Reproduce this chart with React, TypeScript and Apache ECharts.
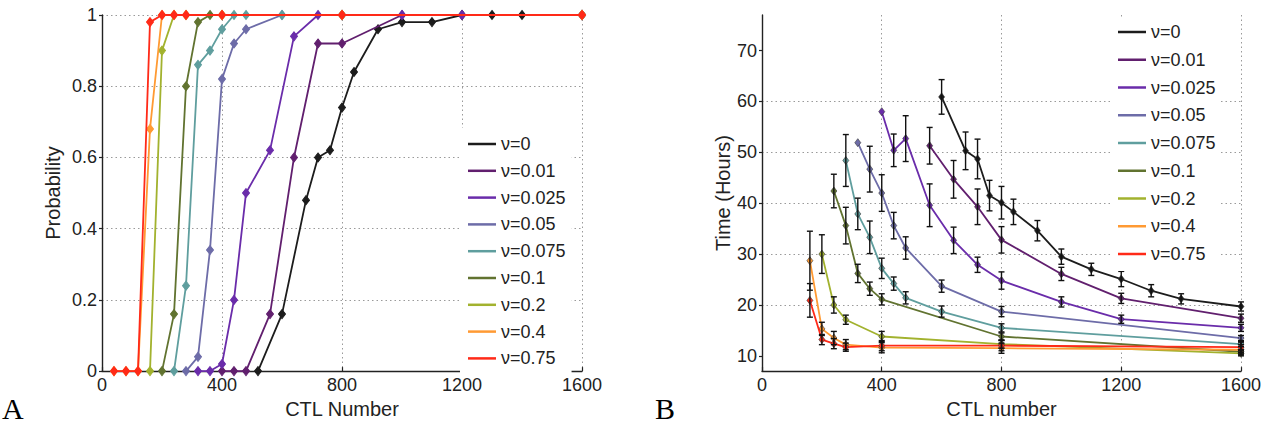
import React, { useEffect, useRef } from "react";
import * as echarts from "echarts";

// ---------- Names / colours ----------
const seriesNames = ["ν=0", "ν=0.01", "ν=0.025", "ν=0.05", "ν=0.075", "ν=0.1", "ν=0.2", "ν=0.4", "ν=0.75"];
const seriesColors = ["#1c1c1c", "#611f6e", "#6a2caa", "#6d6ca8", "#5f9e9e", "#617330", "#a2b22e", "#ff9a33", "#ff2a18"];

// ---------- Panel A : probability vs CTL number ----------
const ctlA_v0 = [520, 600, 680, 720, 760, 800, 840, 920, 1000, 1100, 1200, 1300, 1400, 1600];
const probA_v0 = [0, 0.16, 0.48, 0.6, 0.62, 0.74, 0.84, 0.96, 0.98, 0.98, 1, 1, 1, 1];
const ctlA_v001 = [400, 440, 480, 560, 640, 720, 800, 1000, 1200, 1600];
const probA_v001 = [0, 0, 0, 0.16, 0.6, 0.92, 0.92, 1, 1, 1];
const ctlA_v0025 = [320, 360, 400, 440, 480, 560, 640, 720, 800, 1000, 1200, 1600];
const probA_v0025 = [0, 0, 0.02, 0.2, 0.5, 0.62, 0.94, 1, 1, 1, 1, 1];
const ctlA_v005 = [280, 320, 360, 400, 440, 480, 600, 800, 1600];
const probA_v005 = [0, 0.04, 0.34, 0.82, 0.92, 0.96, 1, 1, 1];
const ctlA_v0075 = [240, 280, 320, 360, 400, 440, 480, 600, 800, 1600];
const probA_v0075 = [0, 0.24, 0.86, 0.9, 0.96, 1, 1, 1, 1, 1];
const ctlA_v01 = [200, 240, 280, 320, 360, 400, 800, 1600];
const probA_v01 = [0, 0.16, 0.8, 0.98, 1, 1, 1, 1];
const ctlA_v02 = [160, 200, 240, 280, 400, 800, 1600];
const probA_v02 = [0, 0.9, 1, 1, 1, 1, 1];
const ctlA_v04 = [40, 80, 120, 160, 200, 240, 280, 400, 800, 1600];
const probA_v04 = [0, 0, 0, 0.68, 1, 1, 1, 1, 1, 1];
const ctlA_v075 = [40, 80, 120, 160, 200, 240, 280, 400, 800, 1600];
const probA_v075 = [0, 0, 0, 0.98, 1, 1, 1, 1, 1, 1];

// ---------- Panel B : time (hours) vs CTL number ----------
const ctlB_v0 = [600, 680, 720, 760, 800, 840, 920, 1000, 1100, 1200, 1300, 1400, 1600];
const timeB_v0 = [60.9, 50.3, 48.7, 41.5, 40.1, 38.3, 34.6, 29.5, 27.0, 25.1, 22.8, 21.2, 19.7];
const errB_v0 = [3.4, 3.7, 3.9, 3.0, 3.2, 2.5, 2.0, 1.5, 1.2, 1.5, 1.2, 1.0, 0.9];
const ctlB_v001 = [560, 640, 720, 800, 1000, 1200, 1600];
const timeB_v001 = [51.3, 44.7, 39.3, 32.8, 26.1, 21.3, 17.4];
const errB_v001 = [3.6, 3.7, 3.5, 2.6, 1.3, 1.0, 0.8];
const ctlB_v0025 = [400, 440, 480, 560, 640, 720, 800, 1000, 1200, 1600];
const timeB_v0025 = [58.0, 50.4, 52.7, 39.6, 32.7, 27.9, 24.8, 20.6, 17.2, 15.5];
const errB_v0025 = [0, 3.2, 4.5, 4.2, 2.6, 1.5, 1.7, 1.0, 0.8, 0.7];
const ctlB_v005 = [320, 360, 400, 440, 480, 600, 800, 1600];
const timeB_v005 = [51.9, 46.7, 42.0, 35.6, 31.2, 23.7, 18.7, 13.5];
const errB_v005 = [0, 4.5, 3.6, 2.6, 2.2, 1.2, 1.0, 0.5];
const ctlB_v0075 = [280, 320, 360, 400, 440, 480, 600, 800, 1600];
const timeB_v0075 = [48.4, 37.9, 33.3, 27.2, 24.2, 21.4, 18.7, 15.5, 12.3];
const errB_v0075 = [5.1, 3.1, 3.2, 2.0, 1.3, 1.2, 1.1, 0.8, 0.5];
const ctlB_v01 = [240, 280, 320, 360, 400, 800, 1600];
const timeB_v01 = [42.4, 35.6, 26.2, 23.2, 21.1, 13.8, 10.8];
const errB_v01 = [3.3, 3.6, 1.8, 1.3, 1.1, 0.7, 0.4];
const ctlB_v02 = [200, 240, 280, 400, 800, 1600];
const timeB_v02 = [30.0, 20.0, 17.1, 13.8, 12.3, 10.5];
const errB_v02 = [3.8, 1.6, 0.9, 1.0, 0.8, 0.5];
const ctlB_v04 = [160, 200, 240, 280, 400, 800, 1600];
const timeB_v04 = [28.7, 15.3, 13.5, 12.2, 11.6, 11.5, 11.2];
const errB_v04 = [5.8, 1.3, 1.3, 1.0, 1.0, 1.0, 1.0];
const ctlB_v075 = [160, 200, 240, 280, 400, 800, 1600];
const timeB_v075 = [20.9, 13.2, 12.4, 11.7, 12.0, 12.0, 11.7];
const errB_v075 = [3.3, 1.0, 1.0, 0.8, 1.0, 1.0, 1.0];

// ---------- Axis ticks ----------
const xTickValues = [0, 400, 800, 1200, 1600];
const yTicksA = [0, 0.2, 0.4, 0.6, 0.8, 1];
const yTicksB = [10, 20, 30, 40, 50, 60, 70];

const panelA = [
  [ctlA_v0, probA_v0], [ctlA_v001, probA_v001], [ctlA_v0025, probA_v0025],
  [ctlA_v005, probA_v005], [ctlA_v0075, probA_v0075], [ctlA_v01, probA_v01],
  [ctlA_v02, probA_v02], [ctlA_v04, probA_v04], [ctlA_v075, probA_v075],
];
const panelB = [
  [ctlB_v0, timeB_v0, errB_v0], [ctlB_v001, timeB_v001, errB_v001], [ctlB_v0025, timeB_v0025, errB_v0025],
  [ctlB_v005, timeB_v005, errB_v005], [ctlB_v0075, timeB_v0075, errB_v0075], [ctlB_v01, timeB_v01, errB_v01],
  [ctlB_v02, timeB_v02, errB_v02], [ctlB_v04, timeB_v04, errB_v04], [ctlB_v075, timeB_v075, errB_v075],
];

const FONT = "Liberation Sans, Arial, Helvetica, sans-serif";
const SERIF = "Liberation Serif, Times New Roman, serif";
const AXIS_COLOR = "#222";
const GRID_LINE = { show: true, lineStyle: { color: "#9a9a9a", width: 1, type: [1.5, 3] } };

function xAxisCfg(gridIndex: number, name: string) {
  return {
    type: "value",
    gridIndex,
    min: xTickValues[0],
    max: xTickValues[xTickValues.length - 1],
    interval: xTickValues[1] - xTickValues[0],
    name,
    nameLocation: "middle",
    nameGap: 21,
    nameTextStyle: { fontSize: 20, color: AXIS_COLOR, fontFamily: FONT },
    axisLine: { show: true, lineStyle: { color: AXIS_COLOR, width: 1.4 } },
    axisTick: { show: true, inside: true, length: 4, lineStyle: { color: AXIS_COLOR, width: 1.2 } },
    axisLabel: {
      fontSize: 18,
      color: AXIS_COLOR,
      fontFamily: FONT,
      margin: 5,
      showMaxLabel: true,
      showMinLabel: true,
      formatter: (v: number) => String(v),
    },
    splitLine: GRID_LINE,
  };
}

export default function App() {
  const ref = useRef<HTMLDivElement>(null);

  useEffect(() => {
    if (!ref.current) return;
    const chart = echarts.init(ref.current, undefined, { renderer: "svg" });

    const lineA = panelA.map(([xs, ys], i) => ({
      name: seriesNames[i],
      type: "line",
      xAxisIndex: 0,
      yAxisIndex: 0,
      data: xs.map((x, k) => [x, ys[k]]),
      symbol: "diamond",
      symbolSize: [7, 9],
      lineStyle: { color: seriesColors[i], width: 1.8 },
      itemStyle: { color: seriesColors[i], borderColor: seriesColors[i], borderWidth: 1 },
      z: 2 + i * 0.01,
      emphasis: { disabled: true },
    }));

    const lineB = panelB.map(([xs, ys], i) => ({
      name: seriesNames[i],
      type: "line",
      xAxisIndex: 1,
      yAxisIndex: 1,
      data: xs.map((x, k) => [x, ys[k]]),
      symbol: "diamond",
      symbolSize: [6, 8],
      lineStyle: { color: seriesColors[i], width: 1.8 },
      itemStyle: { color: seriesColors[i], borderColor: "#333", borderWidth: 0.6 },
      z: 2 + i * 0.01,
      emphasis: { disabled: true },
    }));

    const errData: number[][] = [];
    panelB.forEach(([xs, ys, es]) => {
      xs.forEach((x, k) => {
        if (es[k] > 0) errData.push([x, ys[k] - es[k], ys[k] + es[k]]);
      });
    });

    const errSeries = {
      name: "errorbars",
      type: "custom",
      xAxisIndex: 1,
      yAxisIndex: 1,
      z: 3,
      data: errData,
      encode: { x: 0, y: [1, 2] },
      renderItem: (_params: any, api: any) => {
        const x = api.value(0);
        const lo = api.value(1);
        const hi = api.value(2);
        const top = api.coord([x, hi]);
        const bot = api.coord([x, lo]);
        const w = 3;
        const style = { stroke: "#111", lineWidth: 1.4, fill: "none" };
        return {
          type: "group",
          children: [
            { type: "line", shape: { x1: top[0], y1: top[1], x2: bot[0], y2: bot[1] }, style },
            { type: "line", shape: { x1: top[0] - w, y1: top[1], x2: top[0] + w, y2: top[1] }, style },
            { type: "line", shape: { x1: bot[0] - w, y1: bot[1], x2: bot[0] + w, y2: bot[1] }, style },
          ],
        };
      },
    };

    const legendBase = {
      orient: "vertical",
      data: seriesNames,
      icon: "rect",
      itemWidth: 28,
      itemHeight: 2.5,
      backgroundColor: "#ffffff",
      itemStyle: { borderWidth: 0 },
      textStyle: { fontSize: 18, lineHeight: 18, color: "#222", fontFamily: FONT },
      selectedMode: false,
    };

    chart.setOption({
      animation: false,
      textStyle: { fontFamily: FONT },
      title: [
        { text: "A", left: 2, top: 393, padding: 0, textStyle: { fontFamily: SERIF, fontSize: 30, lineHeight: 30, fontWeight: "normal", color: "#000" } },
        { text: "B", left: 655, top: 393, padding: 0, textStyle: { fontFamily: SERIF, fontSize: 30, lineHeight: 30, fontWeight: "normal", color: "#000" } },
      ],
      legend: [
        { ...legendBase, left: 460, top: 128, padding: [7, 6, 8, 8], itemGap: 8.8 },
        { ...legendBase, left: 1112, top: 17, padding: [6, 4, 8, 6], itemGap: 9.75 },
      ],
      grid: [
        { left: 102, top: 15, width: 480, height: 363, containLabel: false },
        { left: 762, top: 15, width: 480, height: 363, containLabel: false },
      ],
      xAxis: [xAxisCfg(0, "CTL Number"), xAxisCfg(1, "CTL number")],
      yAxis: [
        {
          type: "value",
          gridIndex: 0,
          min: yTicksA[0],
          max: yTicksA[yTicksA.length - 1],
          interval: yTicksA[1] - yTicksA[0],
          name: "Probability",
          nameLocation: "middle",
          nameGap: 39,
          nameTextStyle: { fontSize: 20, color: AXIS_COLOR, fontFamily: FONT },
          axisLine: { show: true, lineStyle: { color: AXIS_COLOR, width: 1.4 } },
          axisTick: { show: true, inside: false, length: 3, lineStyle: { color: AXIS_COLOR, width: 1.2 } },
          axisLabel: { fontSize: 18, color: AXIS_COLOR, fontFamily: FONT, margin: 5 },
          splitLine: GRID_LINE,
        },
        {
          type: "value",
          gridIndex: 1,
          min: 7,
          max: 77,
          name: "Time (Hours)",
          nameLocation: "middle",
          nameGap: 29,
          nameTextStyle: { fontSize: 20, color: AXIS_COLOR, fontFamily: FONT },
          axisLine: { show: true, lineStyle: { color: AXIS_COLOR, width: 1.4 } },
          axisTick: { show: true, inside: false, length: 3, customValues: yTicksB, lineStyle: { color: AXIS_COLOR, width: 1.2 } },
          axisLabel: {
            fontSize: 18,
            color: AXIS_COLOR,
            fontFamily: FONT,
            margin: 5,
            customValues: yTicksB,
            formatter: (v: number) => (yTicksB.indexOf(v) >= 0 ? String(v) : ""),
          },
          splitLine: { ...GRID_LINE, showMaxLine: false, showMinLine: false },
        },
      ],
      series: [...lineA, ...lineB, errSeries],
    });

    return () => chart.dispose();
  }, []);

  return (
    <div
      ref={ref}
      style={{ position: "absolute", left: 0, top: 0, width: 1264, height: 424, background: "#fff" }}
    />
  );
}
